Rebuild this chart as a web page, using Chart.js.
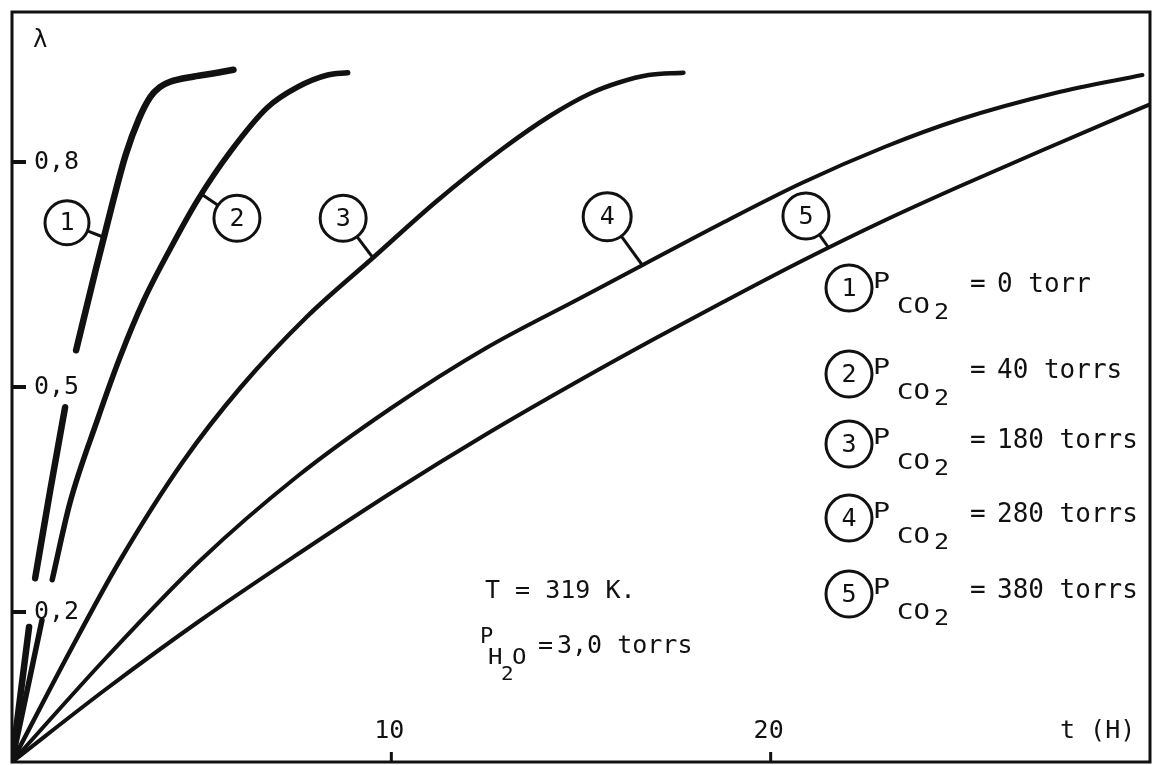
<!DOCTYPE html>
<html lang="fr">
<head>
<meta charset="UTF-8">
<title>λ en fonction de t</title>
<script src="https://cdn.jsdelivr.net/npm/chart.js@4.4.1/dist/chart.umd.min.js"></script>
<style>
  body { margin: 0; background: #fff; }
  #wrap { width: 1156px; height: 765px; }
</style>
</head>
<body>
<div id="wrap"><canvas id="chart"></canvas></div>
<script>
// time (h) and lambda for each curve; null = pen lifted (gap around tick labels)
const t1 = [0, 0.45, 0.53, 0.61, 1.0, 1.40, 1.55, 1.69, 2.2, 2.67, 3.0, 3.35, 3.65, 3.9, 4.17, 4.8, 5.3, 5.84];
const lam1 = [0, 0.18, null, 0.245, 0.36, 0.473, null, 0.549, 0.655, 0.749, 0.81, 0.858, 0.887, 0.9, 0.907, 0.914, 0.918, 0.923];

const t2 = [0, 0.79, 0.92, 1.06, 1.53, 2.25, 2.85, 3.46, 4.17, 4.89, 5.76, 6.74, 7.53, 8.32, 8.85];
const lam2 = [0, 0.189, null, 0.243, 0.346, 0.456, 0.54, 0.614, 0.684, 0.749, 0.814, 0.873, 0.9, 0.916, 0.919];

const t3 = [0, 1.5, 2.85, 4.5, 6.02, 7.8, 9.51, 11.2, 12.89, 14.2, 15.27, 16.0, 16.78, 17.7];
const lam3 = [0, 0.145, 0.269, 0.4, 0.499, 0.595, 0.672, 0.748, 0.816, 0.862, 0.892, 0.906, 0.916, 0.919];

const t4 = [0, 2.5, 4.97, 7.5, 10, 12.5, 15, 16.64, 18.7, 20.82, 23, 25, 27.5, 29.8];
const lam4 = [0, 0.14, 0.269, 0.38, 0.472, 0.552, 0.619, 0.663, 0.718, 0.772, 0.82, 0.857, 0.892, 0.916];

const t5 = [0, 2.5, 4.97, 7.5, 10, 12.5, 15, 17, 18.7, 20.82, 23, 25, 27.5, 30];
const lam5 = [0, 0.098, 0.189, 0.276, 0.359, 0.437, 0.51, 0.566, 0.612, 0.668, 0.722, 0.768, 0.823, 0.877];

const yTicks = [0.2, 0.5, 0.8];
const xTicks = [10, 20];
const curveNames = ['1', '2', '3', '4', '5'];
const pressures = ['0 torr', '40 torrs', '180 torrs', '280 torrs', '380 torrs'];

const FONT = '"DejaVu Sans Mono", monospace';
const INK = '#111';

function pts(ts, ls) {
  return ts.map((t, i) => ({ x: t, y: ls[i] }));
}

function ds(ts, ls, w) {
  return {
    data: pts(ts, ls),
    borderColor: INK,
    borderWidth: w,
    borderCapStyle: 'round',
    borderJoinStyle: 'round',
    cubicInterpolationMode: 'monotone',
    pointRadius: 0,
    fill: false,
    spanGaps: false
  };
}

// circled numbers on the curves: circle centre and the point on the curve, in data units
const curveTags = [
  { c: [1.45, 0.719], p: [2.40, 0.700], r: 22 },
  { c: [5.93, 0.725], p: [5.00, 0.757], r: 23 },
  { c: [8.73, 0.725], p: [9.52, 0.672], r: 23 },
  { c: [15.69, 0.727], p: [16.61, 0.663], r: 24 },
  { c: [20.93, 0.728], p: [21.51, 0.687], r: 23 }
];

function txt(c, s, x, y, size, align) {
  c.font = size + 'px ' + FONT;
  c.textAlign = align || 'left';
  c.textBaseline = 'alphabetic';
  c.fillText(s, x, y);
}

// typewriter subscripts are wide and short: stretch horizontally
function wide(c, s, x, y, size, sx) {
  c.save();
  c.translate(x, y);
  c.scale(sx, 1);
  c.font = size + 'px ' + FONT;
  c.textAlign = 'left';
  c.textBaseline = 'alphabetic';
  c.fillText(s, 0, 0);
  c.restore();
}

function circled(c, cx, cy, r, s) {
  c.beginPath();
  c.arc(cx, cy, r, 0, Math.PI * 2);
  c.lineWidth = 3;
  c.stroke();
  c.font = '25px ' + FONT;
  c.textAlign = 'center';
  c.textBaseline = 'middle';
  c.fillText(s, cx, cy + 1);
}

const decor = {
  id: 'decor',
  afterDatasetsDraw(chart) {
    const c = chart.ctx;
    const a = chart.chartArea;
    const xs = chart.scales.x, ys = chart.scales.y;
    c.save();
    c.strokeStyle = INK;
    c.fillStyle = INK;

    // frame
    c.lineWidth = 3;
    c.strokeRect(a.left, a.top, a.right - a.left, a.bottom - a.top);

    // y ticks (inside) + labels
    yTicks.forEach(v => {
      const y = ys.getPixelForValue(v);
      c.beginPath();
      c.moveTo(a.left, y);
      c.lineTo(a.left + 14, y);
      c.lineWidth = 4;
      c.stroke();
      c.font = '25px ' + FONT;
      c.textAlign = 'left';
      c.textBaseline = 'middle';
      c.fillText(v.toFixed(1).replace('.', ','), a.left + 22, y);
    });

    // x ticks + labels
    xTicks.forEach(v => {
      const x = xs.getPixelForValue(v);
      c.beginPath();
      c.moveTo(x, a.bottom);
      c.lineTo(x, a.bottom - 10);
      c.lineWidth = 3;
      c.stroke();
      txt(c, String(v), x - 2, a.bottom - 24, 25, 'center');
    });

    // axis names
    txt(c, 'λ', a.left + 21, a.top + 35, 24);
    txt(c, 't (H)', a.right - 90, a.bottom - 24, 25);

    // curve tags
    curveTags.forEach((g, i) => {
      const cx = xs.getPixelForValue(g.c[0]), cy = ys.getPixelForValue(g.c[1]);
      const px = xs.getPixelForValue(g.p[0]), py = ys.getPixelForValue(g.p[1]);
      const d = Math.hypot(px - cx, py - cy);
      c.beginPath();
      c.moveTo(cx + (px - cx) * g.r / d, cy + (py - cy) * g.r / d);
      c.lineTo(px, py);
      c.lineWidth = 3;
      c.stroke();
      circled(c, cx, cy, g.r, curveNames[i]);
    });

    // legend
    const rows = [292, 378, 448, 522, 598];
    rows.forEach((b, i) => {
      circled(c, 849, b - 4, 23, curveNames[i]);
      wide(c, 'P', 873, b - 4, 21, 1.35);
      wide(c, 'CO', 897, b + 21, 21, 1.3);
      wide(c, '2', 934, b + 27, 21, 1.2);
      txt(c, '=', 970, b, 26);
      txt(c, pressures[i], 997, b, 26);
    });

    // conditions
    txt(c, 'T = 319 K.', 485, 598, 25);
    wide(c, 'P', 480, 643, 21, 1.05);
    wide(c, 'H', 488, 664, 21, 1.15);
    wide(c, '2', 501, 680, 19, 1.1);
    wide(c, 'O', 512, 664, 21, 1.15);
    txt(c, '=', 538, 653, 25);
    txt(c, '3,0 torrs', 557, 653, 25);

    c.restore();
  }
};

new Chart(document.getElementById('chart'), {
  type: 'line',
  data: {
    datasets: [
      ds(t1, lam1, 6.5),
      ds(t2, lam2, 5.5),
      ds(t3, lam3, 4.5),
      ds(t4, lam4, 4),
      ds(t5, lam5, 4)
    ]
  },
  options: {
    responsive: true,
    maintainAspectRatio: false,
    animation: false,
    layout: { padding: { left: 12, top: 12, right: 6, bottom: 3 } },
    scales: {
      x: { type: 'linear', min: 0, max: 30, display: false },
      y: { type: 'linear', min: 0, max: 1, display: false }
    },
    plugins: { legend: { display: false }, tooltip: { enabled: false } }
  },
  plugins: [decor]
});
</script>
</body>
</html>
